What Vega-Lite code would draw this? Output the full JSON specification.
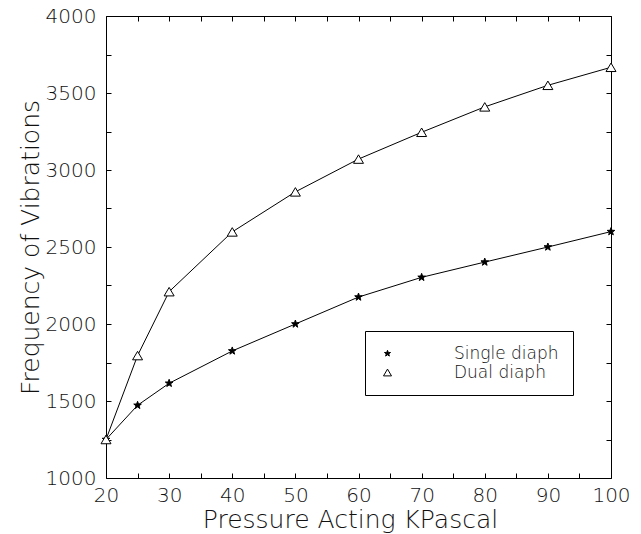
{
  "$schema": "https://vega.github.io/schema/vega-lite/v6.json",
  "width": 505,
  "height": 462,
  "autosize": {"type": "none"},
  "padding": {"left": 106, "top": 16, "right": 30, "bottom": 56},
  "background": "white",
  "config": {
    "font": "DejaVu Sans",
    "view": {"stroke": "black", "strokeWidth": 1},
    "axis": {
      "grid": false,
      "domain": false,
      "tickColor": "black",
      "tickSize": -5,
      "labelColor": "#111",
      "labelFont": "DejaVu Sans",
      "labelFontWeight": 200,
      "labelFontSize": 20,
      "titleFont": "DejaVu Sans",
      "titleFontWeight": 200,
      "titleFontSize": 25,
      "titleColor": "#111"
    },
    "legend": {
      "padding": 14,
      "strokeColor": "black",
      "fillColor": "white",
      "cornerRadius": 0,
      "symbolStrokeColor": "black",
      "symbolStrokeWidth": 1,
      "rowPadding": 1,
      "labelFont": "DejaVu Sans",
      "labelFontWeight": 200,
      "labelFontSize": 17,
      "labelColor": "#111"
    }
  },
  "data": {
    "values": [
      {"pressure": 20, "freq": 1250, "series": "Single diaph"},
      {"pressure": 25, "freq": 1472, "series": "Single diaph"},
      {"pressure": 30, "freq": 1615, "series": "Single diaph"},
      {"pressure": 40, "freq": 1825, "series": "Single diaph"},
      {"pressure": 50, "freq": 2000, "series": "Single diaph"},
      {"pressure": 60, "freq": 2175, "series": "Single diaph"},
      {"pressure": 70, "freq": 2303, "series": "Single diaph"},
      {"pressure": 80, "freq": 2402, "series": "Single diaph"},
      {"pressure": 90, "freq": 2500, "series": "Single diaph"},
      {"pressure": 100, "freq": 2600, "series": "Single diaph"},
      {"pressure": 20, "freq": 1250, "series": "Dual diaph"},
      {"pressure": 25, "freq": 1795, "series": "Dual diaph"},
      {"pressure": 30, "freq": 2210, "series": "Dual diaph"},
      {"pressure": 40, "freq": 2598, "series": "Dual diaph"},
      {"pressure": 50, "freq": 2858, "series": "Dual diaph"},
      {"pressure": 60, "freq": 3071, "series": "Dual diaph"},
      {"pressure": 70, "freq": 3245, "series": "Dual diaph"},
      {"pressure": 80, "freq": 3410, "series": "Dual diaph"},
      {"pressure": 90, "freq": 3550, "series": "Dual diaph"},
      {"pressure": 100, "freq": 3667, "series": "Dual diaph"}
    ]
  },
  "layer": [
    {
      "mark": {"type": "line", "color": "black", "strokeWidth": 1},
      "encoding": {
        "x": {
          "field": "pressure", "type": "quantitative",
          "scale": {"domain": [20, 100], "nice": false, "zero": false},
          "axis": {
            "orient": "bottom",
            "title": "Pressure Acting KPascal",
            "values": [20, 25, 30, 35, 40, 45, 50, 55, 60, 65, 70, 75, 80, 85, 90, 95, 100],
            "labelExpr": "datum.value % 10 === 0 ? datum.label : ''",
            "labelPadding": 12,
            "labelFlush": false,
            "titleX": 244,
            "titleY": 49,
            "titleBaseline": "alphabetic"
          }
        },
        "y": {
          "field": "freq", "type": "quantitative",
          "scale": {"domain": [1000, 4000], "nice": false, "zero": false},
          "axis": {
            "orient": "left",
            "title": "Frequency of Vibrations",
            "values": [1000, 1250, 1500, 1750, 2000, 2250, 2500, 2750, 3000, 3250, 3500, 3750, 4000],
            "labelExpr": "datum.value % 500 === 0 ? datum.label : ''",
            "format": "d",
            "labelPadding": 15,
            "labelFlush": false,
            "titleX": -76,
            "titleBaseline": "middle"
          }
        },
        "detail": {"field": "series"}
      }
    },
    {
      "mark": {"type": "point", "strokeWidth": 1, "opacity": 1, "size": 100},
      "encoding": {
        "x": {
          "field": "pressure", "type": "quantitative",
          "axis": {
            "orient": "top", "title": null, "labels": false,
            "values": [20, 25, 30, 35, 40, 45, 50, 55, 60, 65, 70, 75, 80, 85, 90, 95, 100]
          }
        },
        "y": {
          "field": "freq", "type": "quantitative",
          "axis": {
            "orient": "right", "title": null, "labels": false,
            "values": [1000, 1250, 1500, 1750, 2000, 2250, 2500, 2750, 3000, 3250, 3500, 3750, 4000]
          }
        },
        "shape": {
          "field": "series", "type": "nominal",
          "scale": {
            "domain": ["Single diaph", "Dual diaph"],
            "range": ["M0,-0.8L0.188,-0.259L0.761,-0.247L0.304,0.099L0.47,0.647L0,0.32L-0.47,0.647L-0.304,0.099L-0.761,-0.247L-0.188,-0.259Z", "M0,-0.85L1,0.85L-1,0.85Z"]
          },
          "legend": {
            "title": null,
            "orient": "none",
            "legendX": 259,
            "legendY": 315,
            "symbolSize": 64,
            "labelOffset": 58
          }
        },
        "fill": {
          "field": "series", "type": "nominal",
          "scale": {"domain": ["Single diaph", "Dual diaph"], "range": ["black", "white"]},
          "legend": {
            "title": null,
            "orient": "none",
            "legendX": 259,
            "legendY": 315,
            "symbolSize": 64,
            "labelOffset": 58
          }
        },
        "stroke": {
          "field": "series", "type": "nominal",
          "scale": {"domain": ["Single diaph", "Dual diaph"], "range": ["black", "black"]},
          "legend": {
            "title": null,
            "orient": "none",
            "legendX": 259,
            "legendY": 315,
            "symbolSize": 64,
            "labelOffset": 58
          }
        }
      }
    }
  ],
  "resolve": {"axis": {"x": "independent", "y": "independent"}}
}
